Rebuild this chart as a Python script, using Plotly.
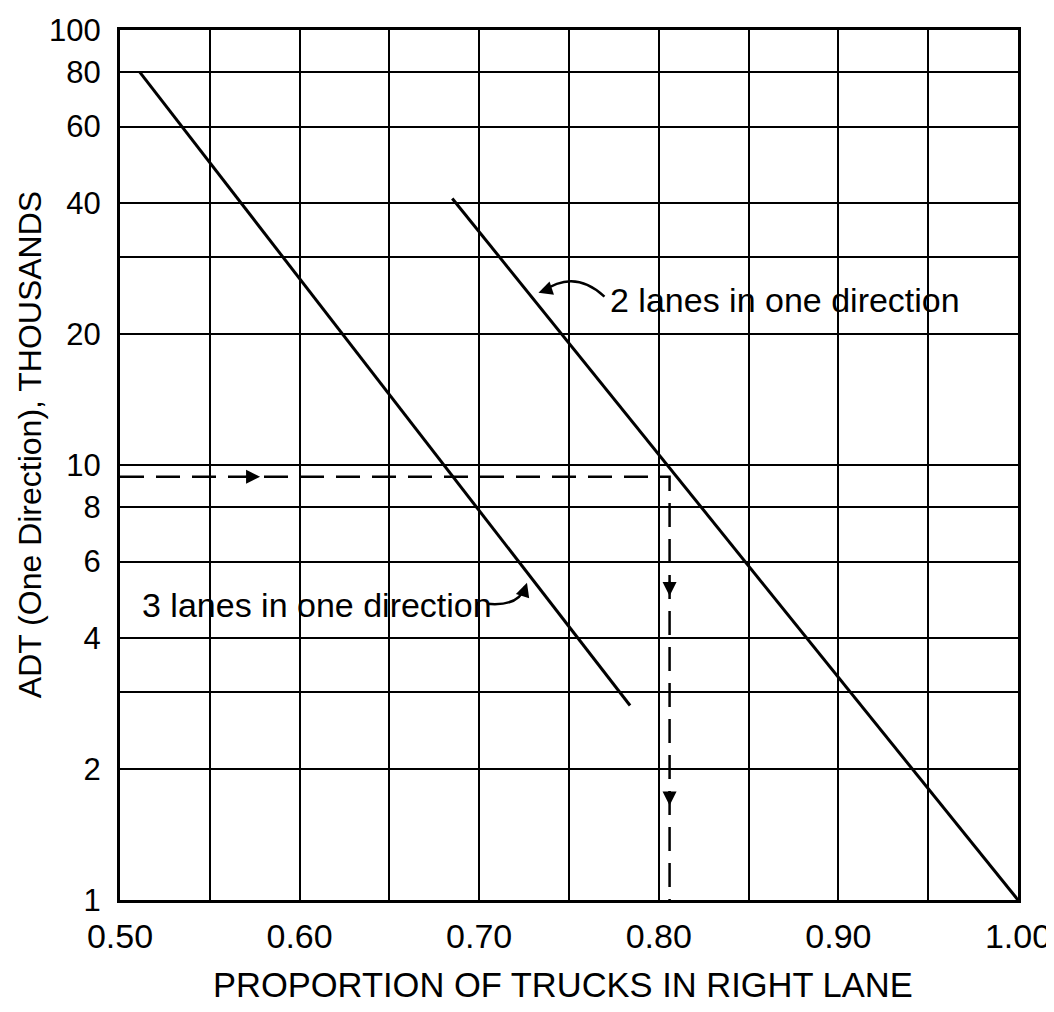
import numpy as np
import plotly.graph_objects as go

# ---- data ----
x_3lane = [0.511, 0.784]
y_3lane = [80, 2.8]
x_2lane = [0.685, 1.00]
y_2lane = [41, 1.0]
x_example = [0.50, 0.806, 0.806]
y_example = [9.4, 9.4, 1.0]

x_tickvals = [0.50, 0.55, 0.60, 0.65, 0.70, 0.75, 0.80, 0.85, 0.90, 0.95, 1.00]
x_ticktext = ["0.50", "", "0.60", "", "0.70", "", "0.80", "", "0.90", "", "1.00"]
y_tickvals = [1, 2, 3, 4, 6, 8, 10, 20, 30, 40, 60, 80, 100]
y_ticktext = ["1", "2", "", "4", "6", "8", "10", "20", "", "40", "60", "80", "100"]

label_2lane = "2 lanes in one direction"
label_3lane = "3 lanes in one direction"

FONT = "Liberation Sans, Arial, sans-serif"

fig = go.Figure()
fig.add_trace(go.Scatter(x=x_3lane, y=y_3lane, mode="lines",
                         line=dict(color="black", width=3), showlegend=False))
fig.add_trace(go.Scatter(x=x_2lane, y=y_2lane, mode="lines",
                         line=dict(color="black", width=3), showlegend=False))
fig.add_trace(go.Scatter(x=x_example, y=y_example, mode="lines",
                         line=dict(color="black", width=2.5, dash="24px,12px"),
                         showlegend=False))

L = np.log10
AH = dict(text="", showarrow=True, arrowhead=2, arrowsize=1.4,
          arrowwidth=2, arrowcolor="black")
ann = []
# arrowheads on the dashed example line
ann.append(dict(x=0.578, y=L(9.4), ax=-16, ay=0, **AH))
ann.append(dict(x=0.806, y=L(5.0), ax=0, ay=-16, **AH))
ann.append(dict(x=0.806, y=L(1.65), ax=0, ay=-16, **AH))
# pointer arrowheads for the labels
ann.append(dict(x=0.733, y=L(24.9), ax=9, ay=-3, **AH))
ann.append(dict(x=0.7266, y=L(5.36), ax=-3, ay=9, **AH))
# labels
ann.append(dict(x=0.7717, y=L(24), text=label_2lane, showarrow=False,
                xanchor="left", yanchor="middle",
                font=dict(family=FONT, size=34, color="black")))
ann.append(dict(x=0.511, y=L(4.77), text=label_3lane, showarrow=False,
                xanchor="left", yanchor="middle",
                font=dict(family=FONT, size=34, color="black")))
# axis titles
ann.append(dict(xref="paper", yref="paper", x=0.493, y=-0.098, yanchor="middle",
                text="PROPORTION OF TRUCKS IN RIGHT LANE", showarrow=False,
                font=dict(family=FONT, size=34.5, color="black")))
ann.append(dict(xref="paper", yref="paper", x=-0.1, y=0.523, textangle=-90,
                xanchor="center", yanchor="middle",
                text="ADT (One Direction), THOUSANDS", showarrow=False,
                font=dict(family=FONT, size=32, color="black")))

# curved pointer shafts (pixel offsets from the arrow tips)
shapes = [
    dict(type="path", xref="x", yref="y", xsizemode="pixel", ysizemode="pixel",
         xanchor=0.733, yanchor=24.9, path="M 66,-4 Q 36,24 4,1",
         line=dict(color="black", width=2.5)),
    dict(type="path", xref="x", yref="y", xsizemode="pixel", ysizemode="pixel",
         xanchor=0.7266, yanchor=5.36, path="M -40,-21 Q -8,-24 -2,-4",
         line=dict(color="black", width=2.5)),
]

fig.update_layout(
    width=1054, height=1012,
    margin=dict(l=112, r=44, t=22, b=120),
    plot_bgcolor="white", paper_bgcolor="white",
    annotations=ann, shapes=shapes,
    font=dict(family=FONT, color="black"),
)
fig.update_xaxes(range=[0.5, 1.0], tickvals=x_tickvals, ticktext=x_ticktext,
                 showgrid=True, gridcolor="black", gridwidth=2,
                 showline=True, linecolor="black", linewidth=3, mirror=True,
                 zeroline=False, ticks="", automargin=False, ticklabelstandoff=4,
                 tickfont=dict(size=34, family=FONT))
fig.update_yaxes(type="log", range=[0, 2], tickvals=y_tickvals, ticktext=y_ticktext,
                 showgrid=True, gridcolor="black", gridwidth=2,
                 showline=True, linecolor="black", linewidth=3, mirror=True,
                 zeroline=False, ticks="", ticklabelstandoff=10, automargin=False,
                 tickfont=dict(size=31, family=FONT))

fig.write_html("out.html")
